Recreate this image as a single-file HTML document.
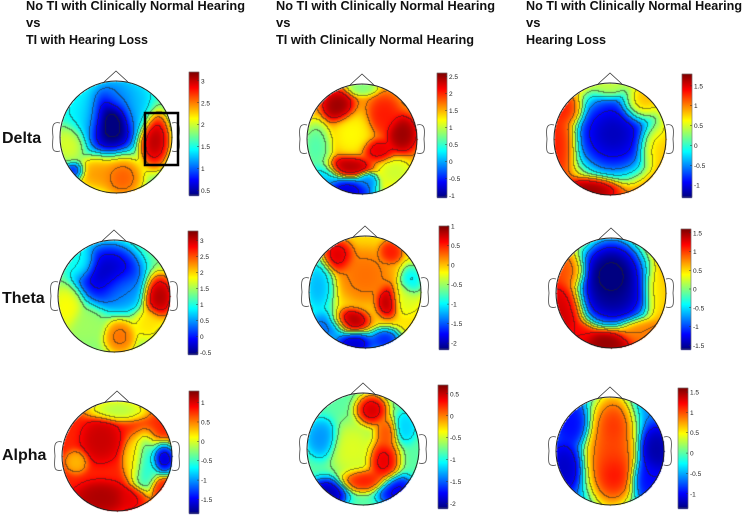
<!DOCTYPE html>
<html><head><meta charset="utf-8"><title>EEG topographic maps</title>
<style>
html,body{margin:0;padding:0;background:#fff;}
#wrap{position:relative;width:745px;height:515px;overflow:hidden;}
#cv,#ov{position:absolute;left:0;top:0;}
text{font-family:"Liberation Sans",sans-serif;}
</style></head>
<body>
<div id="wrap">
<canvas id="cv" width="745" height="515"></canvas>
<svg id="ov" width="745" height="515">
 <g font-weight="bold" font-size="13" fill="#111">
  <text x="26" y="10" textLength="219" lengthAdjust="spacingAndGlyphs">No TI with Clinically Normal Hearing</text>
  <text x="26" y="27">vs</text>
  <text x="26" y="44" textLength="122" lengthAdjust="spacingAndGlyphs">TI with Hearing Loss</text>
  <text x="276" y="10" textLength="219" lengthAdjust="spacingAndGlyphs">No TI with Clinically Normal Hearing</text>
  <text x="276" y="27">vs</text>
  <text x="276" y="44" textLength="198" lengthAdjust="spacingAndGlyphs">TI with Clinically Normal Hearing</text>
  <text x="526" y="10" textLength="216" lengthAdjust="spacingAndGlyphs">No TI with Clinically Normal Hearing</text>
  <text x="526" y="27">vs</text>
  <text x="526" y="44" textLength="80" lengthAdjust="spacingAndGlyphs">Hearing Loss</text>
 </g>
 <g font-weight="bold" font-size="16" fill="#111">
  <text x="2" y="143">Delta</text>
  <text x="2" y="303">Theta</text>
  <text x="2" y="460">Alpha</text>
 </g>
 <g id="heads"></g>
 <rect x="145" y="113" width="33" height="52" fill="none" stroke="#000" stroke-width="2.5"/>
</svg>
</div>
<script>
const mapNames = ['delta-col1','delta-col2','delta-col3','theta-col1','theta-col2','theta-col3','alpha-col1','alpha-col2','alpha-col3'];
const ranges = [[0.4,3.2],[-1.05,2.6],[-1.3,1.8],[-0.55,3.3],[-2.15,1.0],[-1.6,1.6],[-1.85,1.3],[-2.1,0.7],[-1.35,1.6]];
const ticks = [
 [0.5,1,1.5,2,2.5,3],
 [-1,-0.5,0,0.5,1,1.5,2,2.5],
 [-1,-0.5,0,0.5,1,1.5],
 [-0.5,0,0.5,1,1.5,2,2.5,3],
 [-2,-1.5,-1,-0.5,0,0.5,1],
 [-1.5,-1,-0.5,0,0.5,1,1.5],
 [-1.5,-1,-0.5,0,0.5,1],
 [-2,-1.5,-1,-0.5,0,0.5],
 [-1,-0.5,0,0.5,1,1.5]
];
const baseValues = [1.6, 1.6, 1.3, 1.4, -0.1, 1.0, 0.8, -0.8, -0.6];
// blobs: [x, y, rx, ry, value] in head-normalized units
const blobs = [
 [[-0.1,-0.3,0.3,0.35,0.1],[0.1,-0.7,0.25,0.2,1.2],[0.68,0.05,0.18,0.32,3.2],[0.1,0.72,0.25,0.25,2.7],[-0.35,0.65,0.25,0.2,2.5],[-0.85,0.1,0.18,0.22,2.1],[-0.75,0.6,0.12,0.1,0.7],[-0.55,-0.4,0.25,0.3,1.4],[0.35,-0.5,0.2,0.3,1.3]],
 [[-0.45,-0.6,0.18,0.18,2.6],[0.72,-0.1,0.18,0.22,2.6],[0.3,0.2,0.18,0.13,2.3],[-0.25,0.5,0.25,0.13,2.5],[0.4,-0.45,0.18,0.22,2.1],[-0.2,-0.1,0.22,0.25,1.2],[-0.85,0.15,0.18,0.3,0.5],[-0.3,0.95,0.35,0.18,-1.0],[0.1,0.75,0.13,0.1,-0.2],[-0.75,0.7,0.22,0.18,0.0],[0.0,-0.95,0.18,0.1,0.7],[0.6,0.6,0.22,0.18,1.0]],
 [[0.05,-0.1,0.42,0.42,-1.7],[0.05,-0.1,0.5,0.52,-0.8],[-0.3,0.88,0.3,0.13,1.8],[-0.85,0.0,0.18,0.35,1.4],[0.0,-0.9,0.18,0.12,0.5],[0.75,0.1,0.18,0.25,0.9],[-0.75,-0.5,0.18,0.18,1.4],[0.5,-0.6,0.2,0.2,1.1]],
 [[-0.1,-0.4,0.38,0.35,-0.5],[0.15,-0.1,0.25,0.25,0.5],[0.8,0.0,0.18,0.25,3.3],[0.1,0.72,0.18,0.2,2.5],[-0.85,0.2,0.18,0.25,1.9],[-0.6,-0.6,0.18,0.18,1.0],[0.6,0.5,0.18,0.18,2.0],[-0.5,0.5,0.2,0.2,1.5]],
 [[-0.5,-0.65,0.18,0.18,0.8],[0.4,0.15,0.13,0.18,0.95],[-0.3,0.5,0.22,0.13,1.0],[0.45,-0.72,0.13,0.13,0.6],[-0.85,-0.1,0.18,0.35,-1.3],[0.82,-0.2,0.13,0.18,-1.1],[-0.2,0.92,0.25,0.13,-2.1],[0.35,0.85,0.18,0.13,-1.8],[0.7,0.1,0.18,0.18,-0.3],[-0.7,0.6,0.25,0.18,-1.6],[0.0,-0.3,0.3,0.3,0.3]],
 [[0.0,-0.3,0.42,0.48,-2.0],[0.05,0.15,0.4,0.28,-1.6],[-0.85,0.3,0.22,0.35,1.4],[-0.1,0.88,0.3,0.15,1.6],[0.85,0.0,0.15,0.3,0.5],[-0.75,-0.4,0.18,0.2,1.0],[0.5,0.7,0.25,0.15,0.8],[-0.6,0.75,0.2,0.15,1.2]],
 [[0.0,-0.85,0.35,0.13,-0.2],[0.85,0.05,0.16,0.18,-1.85],[0.5,0.2,0.16,0.35,-0.7],[0.3,0.05,0.13,0.25,0.2],[-0.3,0.75,0.3,0.18,1.2],[-0.75,0.1,0.13,0.13,0.3],[-0.3,-0.3,0.22,0.25,1.1],[0.3,0.75,0.18,0.13,1.0],[0.8,0.6,0.13,0.13,0.8]],
 [[-0.2,0.0,0.25,0.3,-0.4],[0.35,0.2,0.18,0.25,0.55],[0.15,-0.7,0.18,0.18,0.6],[0.0,0.55,0.25,0.13,0.4],[-0.65,0.8,0.22,0.18,-2.1],[0.6,0.75,0.22,0.18,-1.9],[-0.75,-0.2,0.18,0.22,-1.4],[0.75,-0.4,0.13,0.18,-1.2],[0.4,-0.3,0.13,0.18,0.2]],
 [[0.05,-0.45,0.22,0.35,1.3],[0.05,0.4,0.25,0.35,1.5],[0.0,0.0,0.25,0.3,1.1],[0.0,0.0,0.3,0.75,1.0],[0.85,0.0,0.2,0.3,-1.3],[-0.85,0.3,0.2,0.3,-1.2],[-0.7,-0.5,0.2,0.25,-1.0],[0.7,0.5,0.2,0.25,-1.0]]
];
const geom = [
 [116,137,56,189,72,195],[362,139,55,437,73,197],[610,139,56,682,74,197],
 [114,296,56,188,231,354],[365,292,56,439,226,349],[611,293,55,681,229,349],
 [117,456,55,189,391,513],[363,449,56,438,385,508],[610,451,54,678,388,508]
];
function jet(t){
 t=Math.max(0,Math.min(1,t));
 const c=v=>Math.round(255*Math.max(0,Math.min(1,v)));
 return [c(1.5-Math.abs(4*t-3)),c(1.5-Math.abs(4*t-2)),c(1.5-Math.abs(4*t-1))];
}
const cv=document.getElementById('cv');const ctx=cv.getContext('2d');
const img=ctx.createImageData(745,515);const D=img.data;
for(let i=0;i<D.length;i+=4){D[i]=D[i+1]=D[i+2]=255;D[i+3]=255;}
function setPix(x,y,rgb){if(x<0||y<0||x>=745||y>=515)return;const k=(y*745+x)*4;D[k]=rgb[0];D[k+1]=rgb[1];D[k+2]=rgb[2];}
for(let m=0;m<9;m++){
 const [cx,cy,r,bx,bt,bb]=geom[m];const [lo,hi]=ranges[m];const B=blobs[m];
 const x0=Math.floor(cx-r),y0=Math.floor(cy-r),N=Math.ceil(2*r)+2;
 const F=new Float32Array(N*N).fill(NaN);
 for(let j=0;j<N;j++)for(let i=0;i<N;i++){
  const x=x0+i,y=y0+j;const nx=(x-cx)/r,ny=(y-cy)/r;if(nx*nx+ny*ny>1)continue;
  let sw=0.12,sv=0.12*baseValues[m];
  for(const b of B){const dx=(nx-b[0])/b[2],dy=(ny-b[1])/b[3];const w=Math.exp(-(dx*dx+dy*dy)*0.9);sw+=w;sv+=w*b[4];}
  F[j*N+i]=sv/sw;
 }
 const step=(hi-lo)/8;
 for(let j=0;j<N;j++)for(let i=0;i<N;i++){
  const v=F[j*N+i];if(isNaN(v))continue;
  let rgb=jet((v-lo)/(hi-lo));
  const L=Math.floor((v-lo)/step);
  const vr=i+1<N?F[j*N+i+1]:NaN, vd=j+1<N?F[(j+1)*N+i]:NaN;
  if((!isNaN(vr)&&Math.floor((vr-lo)/step)!==L)||(!isNaN(vd)&&Math.floor((vd-lo)/step)!==L)){
   rgb=rgb.map(c=>Math.round(c*0.45+20));
  }
  setPix(x0+i,y0+j,rgb);
 }
 for(let y=bt;y<=bb;y++){const rgb=jet((bb-y)/(bb-bt));for(let x=bx;x<bx+10;x++)setPix(x,y,rgb);}
}
ctx.putImageData(img,0,0);
const NS='http://www.w3.org/2000/svg';const heads=document.getElementById('heads');
function mk(tag,attrs,parent){const e=document.createElementNS(NS,tag);for(const k in attrs)e.setAttribute(k,attrs[k]);parent.appendChild(e);return e;}
for(let m=0;m<9;m++){
 const [cx,cy,r,bx,bt,bb]=geom[m];const [lo,hi]=ranges[m];
 const g=mk('g',{},heads);
 
 
 const c=mk('circle',{cx:cx,cy:cy,r:r,fill:'none',stroke:'#222','stroke-width':1},g);
 
 
 const nose=mk('path',{d:`M${cx-12} ${cy-r+1} L${cx} ${cy-r-10} L${cx+12} ${cy-r+1}`,fill:'none',stroke:'#333','stroke-width':0.8},g);
 
 
 for(const s of [-1,1]){
  const ex=cx+s*r;
  const ear=mk('path',{d:`M${ex} ${cy-14} C${ex+s*8} ${cy-16} ${ex+s*8} ${cy-10} ${ex+s*7} ${cy} C${ex+s*8} ${cy+12} ${ex+s*8} ${cy+16} ${ex} ${cy+14}`,fill:'none',stroke:'#444','stroke-width':0.8},g);
  
  
 }
 const bar=mk('rect',{x:bx,y:bt,width:10,height:bb-bt,fill:'none',stroke:'#555','stroke-width':0.5},g);
 
 
 for(const t of ticks[m]){
  const ty=bb-(t-lo)/(hi-lo)*(bb-bt);
  mk('line',{x1:bx+8,x2:bx+10,y1:ty,y2:ty,stroke:'#333','stroke-width':0.5},g);
  const tx=mk('text',{x:bx+12,y:ty+2.5,'font-size':6.5,fill:'#222'},g);
  tx.textContent=String(t);
  
  
 }
}
</script>
</body></html>
